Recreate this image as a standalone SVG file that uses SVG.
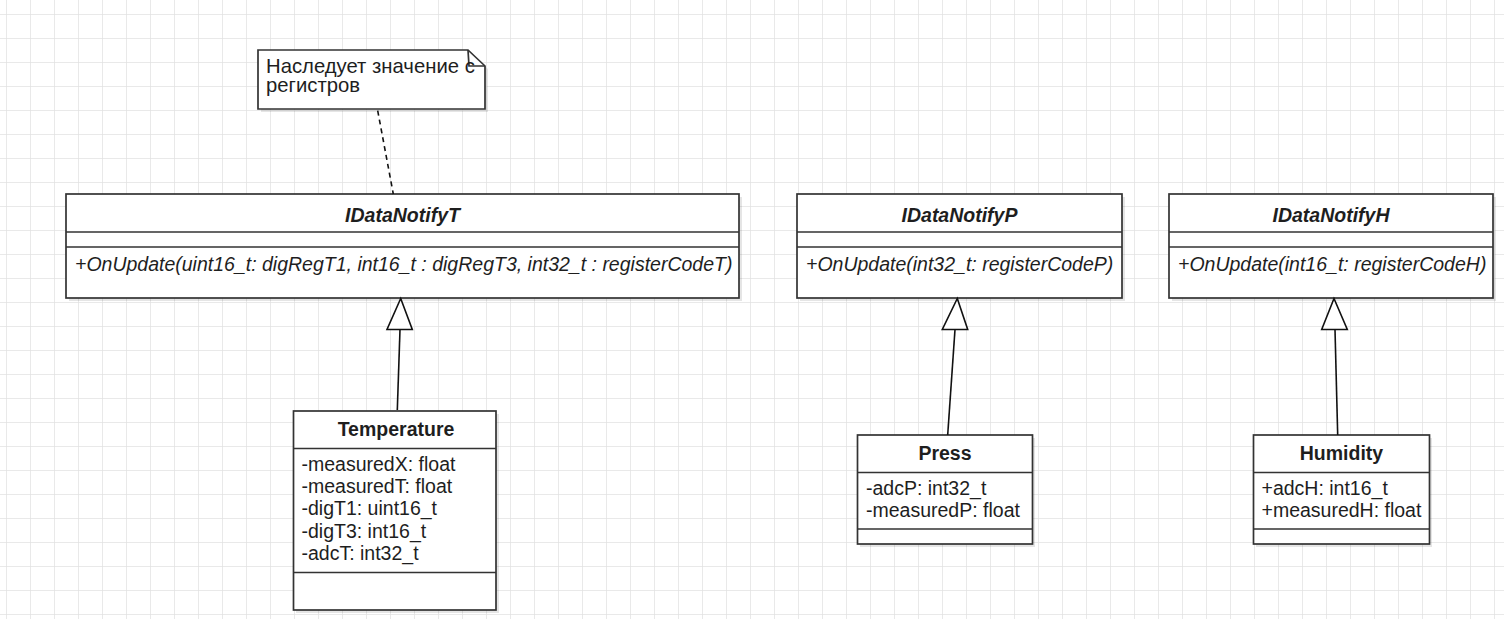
<svg xmlns="http://www.w3.org/2000/svg" width="1504" height="619" viewBox="0 0 1504 619">
<defs>
<pattern id="grid" x="6" y="14" width="24" height="24" patternUnits="userSpaceOnUse">
<path d="M0 0H24M0 0V24" fill="none" stroke="#e2e2e2" stroke-width="1.5"/>
</pattern>
<style>
.box{fill:#fff;stroke:#333;stroke-width:1.7}
.shadow{fill:#000;opacity:0.1}
.div{stroke:#333;stroke-width:1.7;fill:none}
text{font-family:"Liberation Sans",Arial,sans-serif;font-size:19.5px;fill:#1e1e1e}
.note{font-size:20.3px}
.title{font-weight:bold;text-anchor:middle}
.it{font-style:italic}
.conn{stroke:#111;stroke-width:1.6;fill:none}
.tri{fill:#fff;stroke:#111;stroke-width:1.6}
</style>
</defs>
<rect width="1504" height="619" fill="#fff"/>
<rect width="1504" height="619" fill="url(#grid)"/>

<g id="note">
<path class="shadow" d="M261 53H471L488 69V112H261Z"/>
<path class="box" d="M258 50H468L485 66V109H258Z"/>
<path class="div" d="M468 50L469 66H485"/>
<text class="note" x="266" y="73">Наследует значение с</text>
<text class="note" x="266" y="92">регистров</text>
</g>

<g id="IDataNotifyT">
<rect class="shadow" x="69" y="197" width="673" height="104"/>
<rect class="box" x="66" y="194" width="673" height="104"/>
<path class="div" d="M66 232H739M66 247H739"/>
<text class="title it" x="402.5" y="221.5">IDataNotifyT</text>
<text class="it" x="75" y="271">+OnUpdate(uint16_t: digRegT1, int16_t : digRegT3, int32_t : registerCodeT)</text>
</g>

<g id="IDataNotifyP">
<rect class="shadow" x="800" y="197" width="325" height="104"/>
<rect class="box" x="797" y="194" width="325" height="104"/>
<path class="div" d="M797 232H1122M797 247H1122"/>
<text class="title it" x="959.5" y="221.5">IDataNotifyP</text>
<text class="it" x="806" y="271">+OnUpdate(int32_t: registerCodeP)</text>
</g>

<g id="IDataNotifyH">
<rect class="shadow" x="1172" y="197" width="324" height="104"/>
<rect class="box" x="1169" y="194" width="324" height="104"/>
<path class="div" d="M1169 232H1493M1169 247H1493"/>
<text class="title it" x="1331" y="221.5">IDataNotifyH</text>
<text class="it" x="1178" y="271">+OnUpdate(int16_t: registerCodeH)</text>
</g>

<g id="Temperature">
<rect class="shadow" x="296" y="414" width="203" height="199"/>
<rect class="box" x="293.5" y="411" width="202.5" height="199"/>
<path class="div" d="M293.5 448.5H496M293.5 572.5H496"/>
<text class="title" x="396" y="436">Temperature</text>
<text x="301.5" y="470.7">-measuredX: float</text>
<text x="301.5" y="493">-measuredT: float</text>
<text x="301.5" y="515.3">-digT1: uint16_t</text>
<text x="301.5" y="537.6">-digT3: int16_t</text>
<text x="301.5" y="560">-adcT: int32_t</text>
</g>

<g id="Press">
<rect class="shadow" x="860" y="438" width="175" height="109"/>
<rect class="box" x="857.5" y="435" width="175" height="109"/>
<path class="div" d="M857.5 472.5H1032.5M857.5 529H1032.5"/>
<text class="title" x="945" y="460">Press</text>
<text x="866" y="495">-adcP: int32_t</text>
<text x="866" y="517">-measuredP: float</text>
</g>

<g id="Humidity">
<rect class="shadow" x="1256" y="438" width="176" height="109"/>
<rect class="box" x="1253.5" y="435" width="176" height="109"/>
<path class="div" d="M1253.5 472.5H1429.5M1253.5 529H1429.5"/>
<text class="title" x="1341.5" y="460">Humidity</text>
<text x="1261.5" y="495">+adcH: int16_t</text>
<text x="1261.5" y="517">+measuredH: float</text>
</g>

<g id="connectors">
<path class="conn" d="M377.7 110.7L393.3 194" stroke-dasharray="5 4"/>
<path class="conn" d="M400 329.5L397.3 410"/>
<path class="tri" d="M400.7 298.5L412.3 329.5H387Z"/>
<path class="conn" d="M955 329.5L947.7 435"/>
<path class="tri" d="M957.3 298.5L967.7 329.5H942.3Z"/>
<path class="conn" d="M1335 329.5L1337.7 435"/>
<path class="tri" d="M1334 298.5L1347.3 329.5H1321.7Z"/>
</g>
</svg>
